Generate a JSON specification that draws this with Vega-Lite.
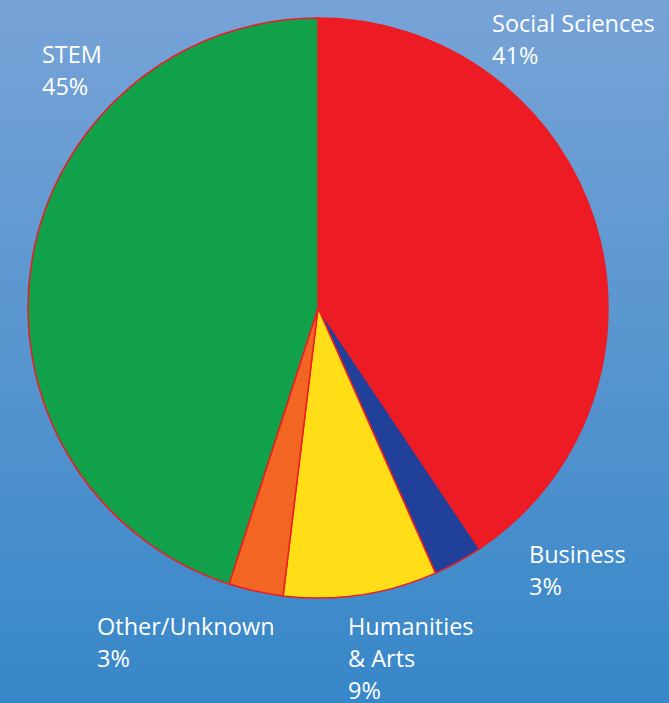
{
  "$schema": "https://vega.github.io/schema/vega-lite/v6.json",
  "width": 702,
  "height": 790,
  "autosize": {"type": "none"},
  "padding": {"left": -33, "top": -87, "right": 0, "bottom": 0},
  "background": "#3A88C8",
  "config": {"view": {"stroke": null}},
  "data": {
    "values": [
      {"category": "Social Sciences", "pct": 40.6, "label": "Social Sciences\n41%"},
      {"category": "Business", "pct": 2.76, "label": "Business\n3%"},
      {"category": "Humanities & Arts", "pct": 8.56, "label": "Humanities\n& Arts\n9%"},
      {"category": "Other/Unknown", "pct": 3.04, "label": "Other/Unknown\n3%"},
      {"category": "STEM", "pct": 45.04, "label": "STEM\n45%"}
    ]
  },
  "transform": [{"window": [{"op": "row_number", "as": "i"}]}],
  "layer": [
    {
      "data": {"values": [{"bg": 1}]},
      "mark": {
        "type": "rect",
        "fill": {
          "gradient": "linear",
          "x1": 0, "y1": 0, "x2": 0, "y2": 1,
          "stops": [
            {"offset": 0, "color": "#80AADB"},
            {"offset": 0.11, "color": "#77A3D7"},
            {"offset": 1, "color": "#3787C8"}
          ]
        }
      },
      "encoding": {
        "x": {"value": 0},
        "x2": {"value": "width"},
        "y": {"value": 0},
        "y2": {"value": "height"}
      }
    },
    {
      "mark": {"type": "arc", "outerRadius": 290, "stroke": "#ED1C24", "strokeWidth": 1.5},
      "encoding": {
        "theta": {"field": "pct", "type": "quantitative", "stack": true},
        "order": {"field": "i", "type": "quantitative"},
        "color": {
          "field": "category", "type": "nominal", "legend": null,
          "scale": {
            "domain": ["Social Sciences", "Business", "Humanities & Arts", "Other/Unknown", "STEM"],
            "range": ["#ED1C24", "#21409A", "#FFDE17", "#F26522", "#11A14A"]
          }
        }
      }
    },
    {
      "transform": [{"filter": "datum.category === 'Social Sciences'"}],
      "mark": {"type": "text", "align": "left", "baseline": "alphabetic", "font": "Open Sans", "fontSize": 23.5, "color": "white", "lineBreak": "\n", "lineHeight": 32},
      "encoding": {"text": {"field": "label"}, "theta": {"value": 0.5625}, "radius": {"value": 326.3}}
    },
    {
      "transform": [{"filter": "datum.category === 'STEM'"}],
      "mark": {"type": "text", "align": "left", "baseline": "alphabetic", "font": "Open Sans", "fontSize": 23.5, "color": "white", "lineBreak": "\n", "lineHeight": 32},
      "encoding": {"text": {"field": "label"}, "theta": {"value": 5.4384}, "radius": {"value": 369.1}}
    },
    {
      "transform": [{"filter": "datum.category === 'Business'"}],
      "mark": {"type": "text", "align": "left", "baseline": "alphabetic", "font": "Open Sans", "fontSize": 23.5, "color": "white", "lineBreak": "\n", "lineHeight": 32},
      "encoding": {"text": {"field": "label"}, "theta": {"value": 2.4503}, "radius": {"value": 331.0}}
    },
    {
      "transform": [{"filter": "datum.category === 'Humanities & Arts'"}],
      "mark": {"type": "text", "align": "left", "baseline": "alphabetic", "font": "Open Sans", "fontSize": 23.5, "color": "white", "lineBreak": "\n", "lineHeight": 32},
      "encoding": {"text": {"field": "label"}, "theta": {"value": 3.0502}, "radius": {"value": 328.4}}
    },
    {
      "transform": [{"filter": "datum.category === 'Other/Unknown'"}],
      "mark": {"type": "text", "align": "left", "baseline": "alphabetic", "font": "Open Sans", "fontSize": 23.5, "color": "white", "lineBreak": "\n", "lineHeight": 32},
      "encoding": {"text": {"field": "label"}, "theta": {"value": 3.7359}, "radius": {"value": 394.7}}
    }
  ]
}
